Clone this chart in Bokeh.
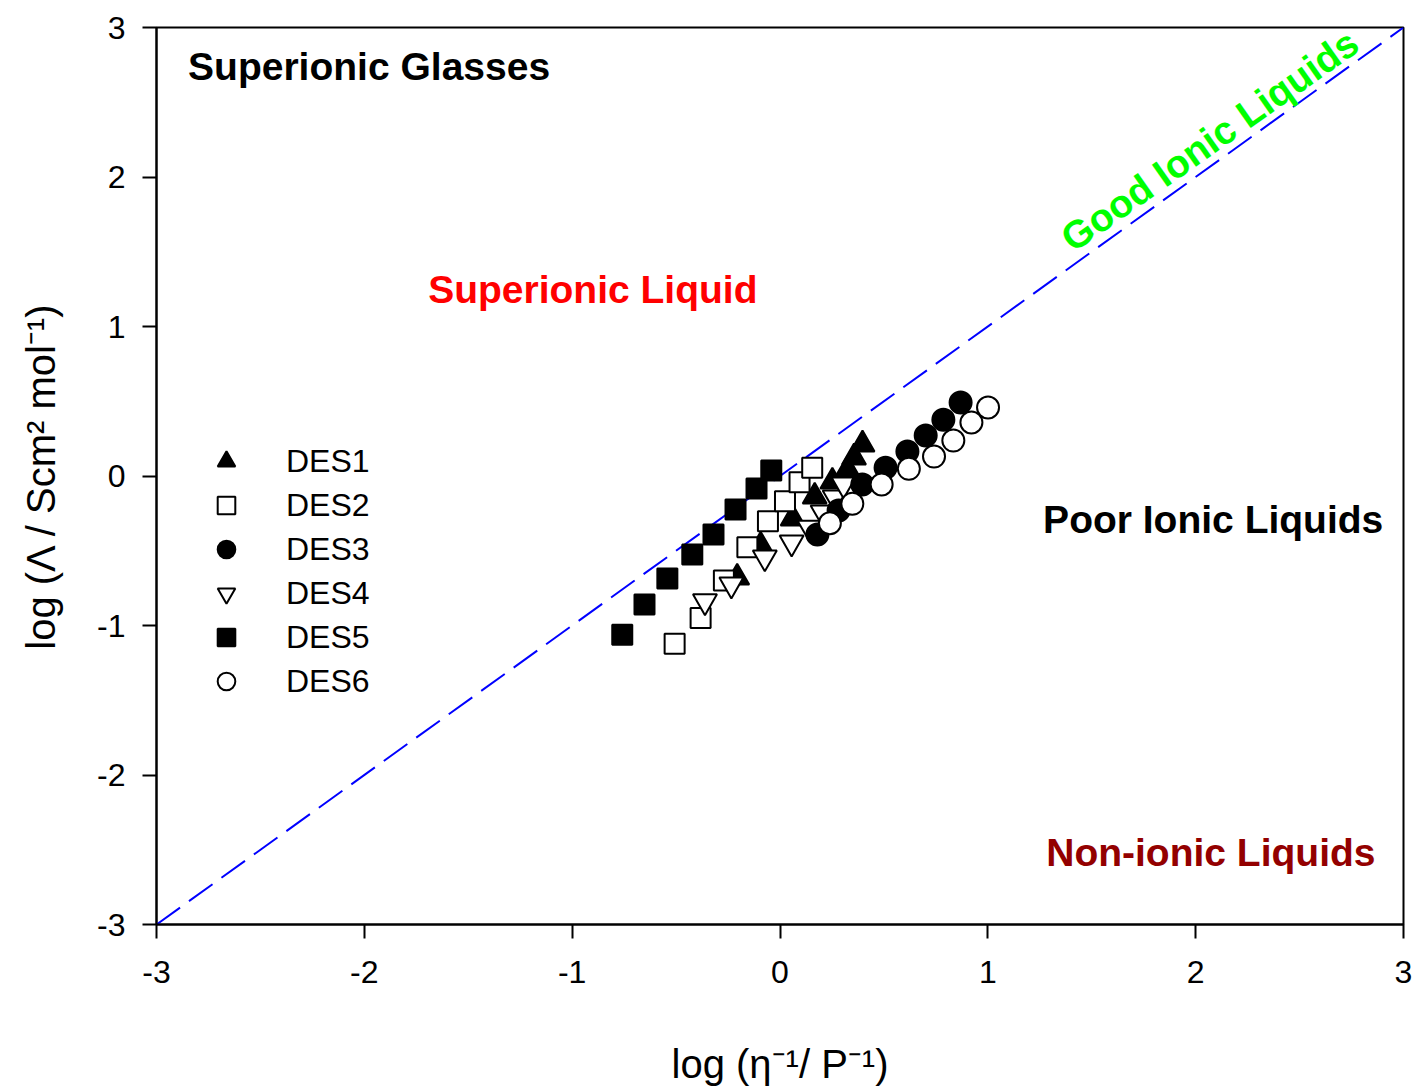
from bokeh.plotting import figure
from bokeh.models import Label, Legend, LegendItem, FixedTicker, Range1d
from bokeh.embed import file_html
from bokeh.resources import INLINE

# ---- data ----
des1_x = [-0.206, -0.093, 0.061, 0.167, 0.252, 0.325, 0.356, 0.397]
des1_y = [-0.679, -0.465, -0.284, -0.137, -0.037, 0.043, 0.124, 0.211]

des2_x = [-0.507, -0.382, -0.270, -0.157, -0.058, 0.024, 0.094, 0.155]
des2_y = [-1.122, -0.949, -0.699, -0.476, -0.302, -0.169, -0.041, 0.055]

des3_x = [0.180, 0.282, 0.396, 0.508, 0.613, 0.701, 0.786, 0.869]
des3_y = [-0.391, -0.231, -0.057, 0.055, 0.164, 0.271, 0.376, 0.492]

des4_x = [-0.361, -0.234, -0.073, 0.056, 0.142, 0.205, 0.263, 0.306]
des4_y = [-0.838, -0.726, -0.545, -0.445, -0.346, -0.244, -0.144, -0.057]

des5_x = [-0.759, -0.652, -0.542, -0.422, -0.320, -0.214, -0.113, -0.042]
des5_y = [-1.062, -0.860, -0.686, -0.525, -0.391, -0.224, -0.084, 0.037]

des6_x = [0.240, 0.348, 0.489, 0.620, 0.741, 0.834, 0.921, 1.001]
des6_y = [-0.316, -0.186, -0.057, 0.048, 0.130, 0.237, 0.358, 0.458]

ideal_x = [-3, 3]
ideal_y = [-3, 3]

ticks = [-3, -2, -1, 0, 1, 2, 3]
tick_labels = ["-3", "-2", "-1", "0", "1", "2", "3"]

FONT = "Liberation Sans"

p = figure(width=1427, height=1090, output_backend="svg", toolbar_location=None,
           x_range=Range1d(-3, 3), y_range=Range1d(-3, 3),
           min_border_left=156, min_border_right=24, min_border_top=27, min_border_bottom=166)

p.xgrid.visible = False
p.ygrid.visible = False
p.outline_line_color = "black"
p.outline_line_width = 2
p.background_fill_color = "white"
p.border_fill_color = "white"

for ax in (p.xaxis[0], p.yaxis[0]):
    ax.ticker = FixedTicker(ticks=ticks)
    ax.major_label_overrides = {t: l for t, l in zip(ticks, tick_labels)}
    ax.minor_tick_line_color = None
    ax.major_tick_in = 0
    ax.major_tick_out = 14
    ax.major_tick_line_width = 2
    ax.axis_line_width = 2
    ax.major_label_text_font = FONT
    ax.major_label_text_font_size = "32px"
    ax.major_label_text_color = "black"
    ax.axis_label_text_font = FONT
    ax.axis_label_text_font_size = "40px"
    ax.axis_label_text_font_style = "normal"
    ax.axis_label_text_color = "black"

p.xaxis.axis_label = "log (\u03b7\u207b\u00b9/ P\u207b\u00b9)"
p.yaxis.axis_label = "log (\u039b / Scm\u00b2 mol\u207b\u00b9)"
p.xaxis.major_label_standoff = 22
p.yaxis.major_label_standoff = 17
p.xaxis.axis_label_standoff = 56
p.yaxis.axis_label_standoff = 31

p.line(ideal_x, ideal_y, line_color="#0000ff", line_width=2, line_dash="29 11")

msz = 22
r1 = p.scatter(des1_x, des1_y, marker="triangle", size=msz + 2, fill_color="black", line_color="black", line_width=2)
r2 = p.scatter(des2_x, des2_y, marker="square", size=msz - 2, fill_color="white", line_color="black", line_width=2)
r4 = p.scatter(des4_x, des4_y, marker="inverted_triangle", size=msz + 2, fill_color="white", line_color="black", line_width=2)
r5 = p.scatter(des5_x, des5_y, marker="square", size=msz - 2, fill_color="black", line_color="black", line_width=2)
r3 = p.scatter(des3_x, des3_y, marker="circle", size=msz, fill_color="black", line_color="black", line_width=2)
r6 = p.scatter(des6_x, des6_y, marker="circle", size=msz, fill_color="white", line_color="black", line_width=2)

legend = Legend(items=[
    LegendItem(label="DES1", renderers=[r1]),
    LegendItem(label="DES2", renderers=[r2]),
    LegendItem(label="DES3", renderers=[r3]),
    LegendItem(label="DES4", renderers=[r4]),
    LegendItem(label="DES5", renderers=[r5]),
    LegendItem(label="DES6", renderers=[r6]),
], location=(48, 221))
legend.border_line_color = None
legend.background_fill_alpha = 0
legend.padding = 0
legend.margin = 0
legend.spacing = 0
legend.glyph_width = 44
legend.glyph_height = 44
legend.label_height = 44
legend.label_standoff = 38
legend.label_text_font = FONT
legend.label_text_font_size = "32px"
legend.label_text_color = "black"
legend.label_text_baseline = "middle"
p.add_layout(legend, "center")

def lab(x, y, text, color, angle=0.0, align="left", baseline="alphabetic"):
    p.add_layout(Label(x=x, y=y, text=text, text_color=color, text_font=FONT,
                       text_font_size="39px", text_font_style="bold", angle=angle,
                       text_align=align, text_baseline=baseline))

lab(-2.848, 2.736, "Superionic Glasses", "black")
lab(-1.693, 1.245, "Superionic Liquid", "#ff0000")
lab(1.266, -0.291, "Poor Ionic Liquids", "black")
lab(1.281, -2.518, "Non-ionic Liquids", "#930000")
lab(2.068, 2.245, "Good Ionic Liquids", "#00ff00", angle=0.615, align="center", baseline="middle")

open("out.html", "w").write(file_html(p, INLINE))
